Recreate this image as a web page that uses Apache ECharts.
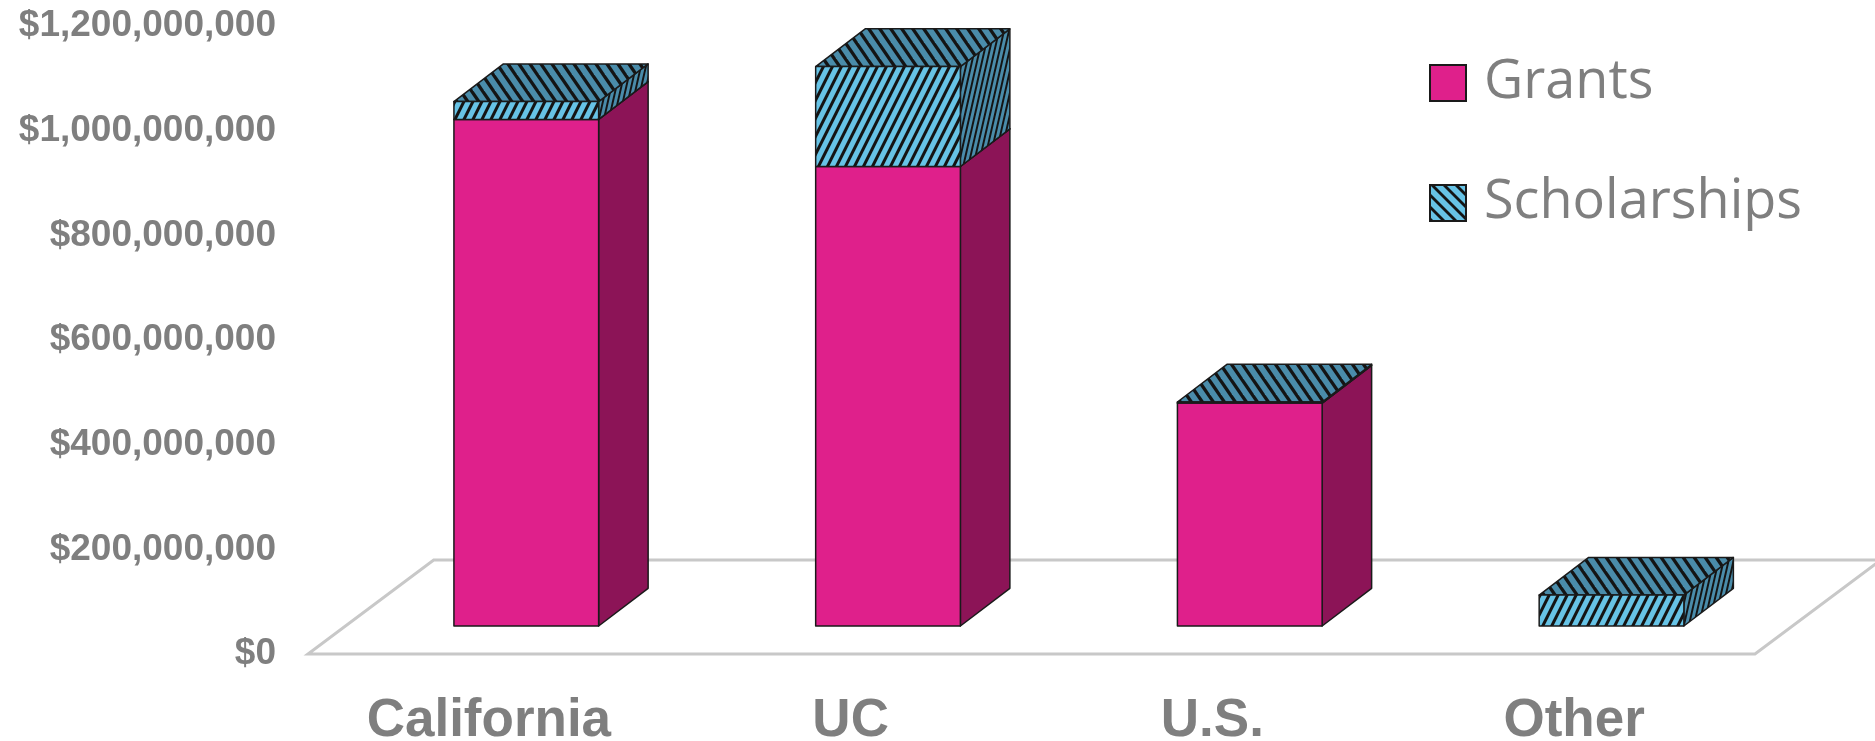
<!DOCTYPE html>
<html><head><meta charset="utf-8">
<script src="https://cdn.jsdelivr.net/npm/echarts@6/dist/echarts.min.js"></script>
<style>html,body{margin:0;padding:0;background:#fff}#c{width:1875px;height:741px}</style>
</head><body><div id="c"></div>
<script>
// ---- data ----
const categories = ['California', 'UC', 'U.S.', 'Other'];
const grants = [968000000, 878000000, 426000000, 0];
const scholarships = [34000000, 191000000, 2000000, 59000000];
const yMin = 0, yMax = 1200000000, yInterval = 200000000;

// ---- styles ----
const PINK = '#DF208B', PINK_SIDE = '#8C1457';
const BLUE = '#67C3E6', BLUE_DARK = '#4A8CAA';
const EDGE = '#1a1a1a';
const GRAY = '#7f7f7f';
const FLOOR = '#c8c8c8';
// oblique depth (px): full floor depth, bar front offset, bar depth
const FLOOR_DX = 125.7, FLOOR_DY = -94;
const FRONT_DX = 37.4, FRONT_DY = -28;
const BAR_DX = 49.5, BAR_DY = -37.7;

function stripeTile(bg, w, h, thick, dir) {
  const c = document.createElement('canvas'); c.width = w; c.height = h;
  const g = c.getContext('2d'); g.fillStyle = bg; g.fillRect(0, 0, w, h);
  g.fillStyle = '#141414';
  for (let k = -2; k <= 2; k++) {
    const x = k * w;
    g.beginPath();
    if (dir > 0) { g.moveTo(x, h); g.lineTo(x + thick, h); g.lineTo(x + thick + w, 0); g.lineTo(x + w, 0); }
    else { g.moveTo(x, 0); g.lineTo(x + thick, 0); g.lineTo(x + thick + w, h); g.lineTo(x + w, h); }
    g.closePath(); g.fill();
  }
  return c;
}
const patFront = { image: stripeTile(BLUE, 9, 18, 3.4, 1), repeat: 'repeat' };
const patTop = { image: stripeTile(BLUE_DARK, 11, 16, 4, -1), repeat: 'repeat' };
const patSide = { image: stripeTile(BLUE_DARK, 5, 22, 2, 1), repeat: 'repeat' };
const patLegend = { image: stripeTile(BLUE, 12, 12, 4, -1), repeat: 'repeat' };

const grantsData = categories.map((c, i) => [i, 0, grants[i]]);
const scholData = categories.map((c, i) => [i, grants[i], grants[i] + scholarships[i]]);

function makeBox(fills) {
  return function (params, api) {
    const cat = api.value(0), lo = api.value(1), hi = api.value(2);
    if (hi - lo <= 0) return { type: 'group', children: [] };
    const pLo = api.coord([cat, lo]), pHi = api.coord([cat, hi]);
    const bw = api.size([1, 0])[0] * 0.4;
    const x0 = pLo[0] - bw / 2 + FRONT_DX, x1 = x0 + bw;
    const yb = pLo[1] + FRONT_DY, yt = pHi[1] + FRONT_DY;
    const st = { stroke: EDGE, lineWidth: 1.5, lineJoin: 'round' };
    return {
      type: 'group',
      children: [
        { type: 'polygon', shape: { points: [[x1, yt], [x1 + BAR_DX, yt + BAR_DY], [x1 + BAR_DX, yb + BAR_DY], [x1, yb]] },
          style: Object.assign({ fill: fills.side }, st) },
        { type: 'polygon', shape: { points: [[x0, yt], [x1, yt], [x1 + BAR_DX, yt + BAR_DY], [x0 + BAR_DX, yt + BAR_DY]] },
          style: Object.assign({ fill: fills.top }, st) },
        { type: 'polygon', shape: { points: [[x0, yt], [x1, yt], [x1, yb], [x0, yb]] },
          style: Object.assign({ fill: fills.front }, st) }
      ]
    };
  };
}

const chart = echarts.init(document.getElementById('c'));
chart.setOption({
  animation: false,
  backgroundColor: '#ffffff',
  grid: { left: 308, right: 120, top: 26, bottom: 87, containLabel: false, outerBoundsMode: 'none' },
  legend: {
    data: ['Grants', 'Scholarships'],
    orient: 'vertical', left: 1429, top: 53, padding: 0,
    itemWidth: 36, itemHeight: 36, itemGap: 60, icon: 'rect',
    itemStyle: { borderColor: EDGE, borderWidth: 2 },
    textStyle: { fontFamily: 'Open Sans', fontSize: 54, color: GRAY, lineHeight: 60, padding: [0, 0, 0, 13] }
  },
  xAxis: {
    type: 'category', data: categories,
    axisLine: { show: false }, axisTick: { show: false },
    axisLabel: { fontFamily: 'Liberation Sans', fontWeight: 'bold', fontSize: 53, color: GRAY, margin: 41 }
  },
  yAxis: {
    type: 'value', min: yMin, max: yMax, interval: yInterval,
    splitLine: { show: false }, axisLine: { show: false }, axisTick: { show: false },
    axisLabel: { fontFamily: 'Liberation Sans', fontWeight: 'bold', fontSize: 37, color: GRAY, margin: 32,
      formatter: v => '$' + v.toLocaleString('en-US') }
  },
  series: [
    {
      type: 'custom', name: 'floor', silent: true, z: 1, data: [[0, 0]],
      renderItem: function (params, api) {
        const cs = params.coordSys;
        const y0 = api.coord([0, 0])[1];
        const xl = cs.x, xr = cs.x + cs.width;
        return { type: 'polygon', shape: { points: [[xl, y0], [xr, y0], [xr + FLOOR_DX, y0 + FLOOR_DY], [xl + FLOOR_DX, y0 + FLOOR_DY]] },
          style: { fill: 'none', stroke: FLOOR, lineWidth: 3 } };
      }
    },
    {
      type: 'custom', name: 'Grants', z: 2, data: grantsData,
      encode: { x: 0, y: [1, 2] },
      itemStyle: { color: PINK },
      renderItem: makeBox({ front: PINK, side: PINK_SIDE, top: PINK })
    },
    {
      type: 'custom', name: 'Scholarships', z: 3, data: scholData,
      encode: { x: 0, y: [1, 2] },
      itemStyle: { color: patLegend },
      renderItem: makeBox({ front: patFront, side: patSide, top: patTop })
    }
  ]
});
</script></body></html>
